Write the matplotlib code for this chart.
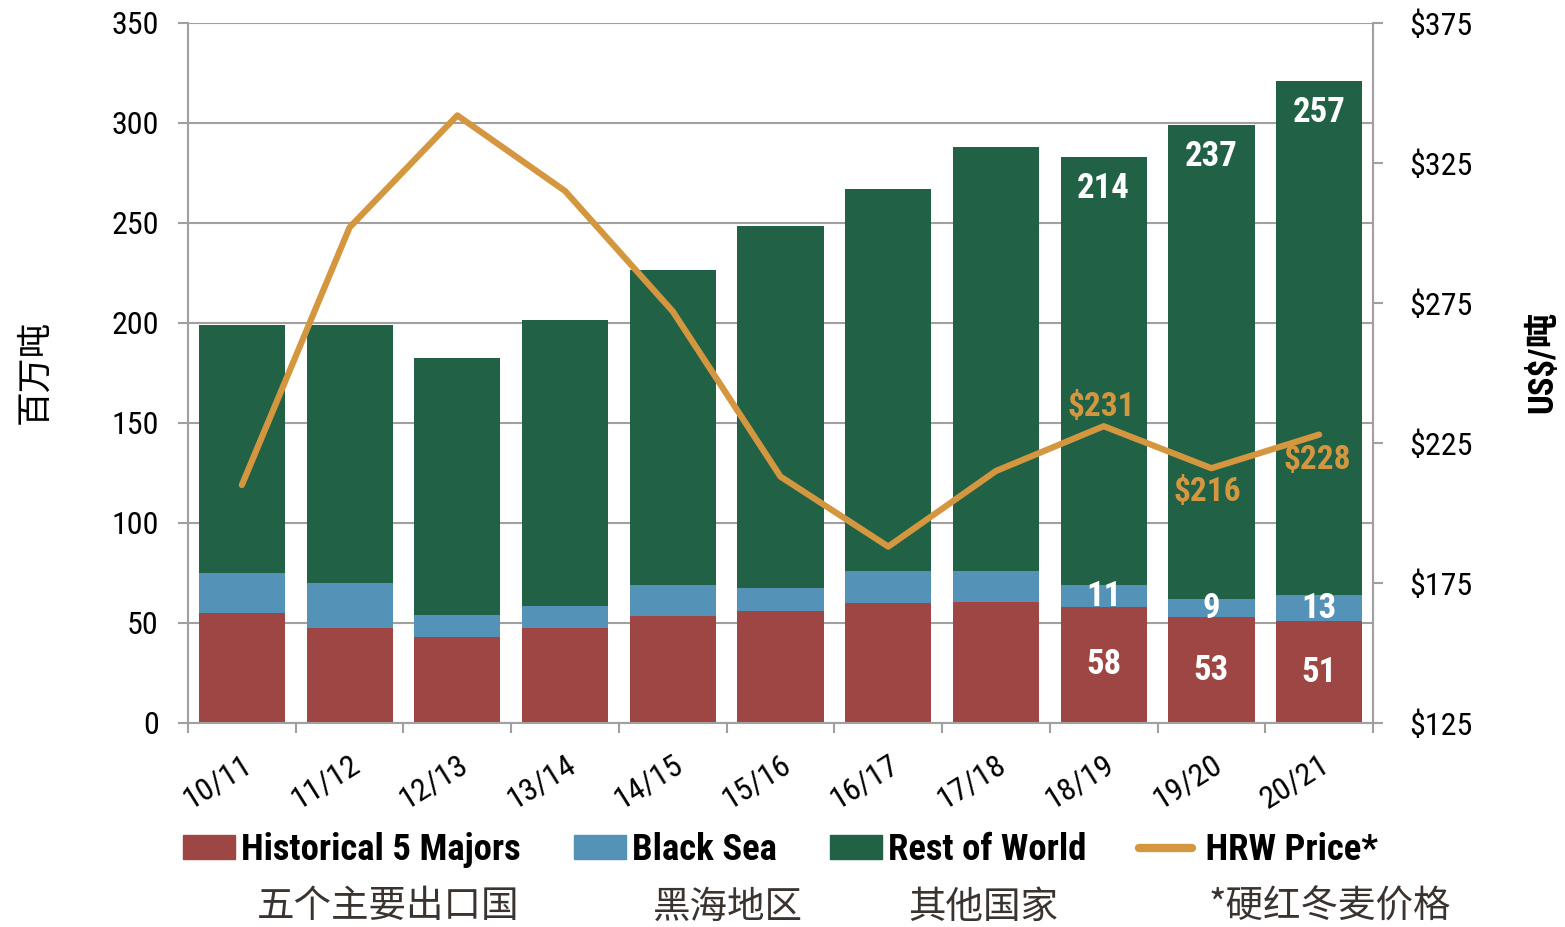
import numpy as np
import matplotlib
matplotlib.use("Agg")
import matplotlib.pyplot as plt
from matplotlib.patches import Patch
from matplotlib.lines import Line2D

## data ##
seasons = ["10/11", "11/12", "12/13", "13/14", "14/15", "15/16",
           "16/17", "17/18", "18/19", "19/20", "20/21"]
majors = [55, 47.5, 43, 47.5, 53.5, 56, 60, 60.5, 58, 53, 51]
black_sea = [20, 22.5, 11, 11, 15.5, 11.5, 16, 15.5, 11, 9, 13]
rest_world = [124, 129, 128.5, 143, 157.5, 181, 191, 212, 214, 237, 257]
hrw_price = [210, 302, 342, 315, 272, 213, 188, 215, 231, 216, 228]
left_ticks = [0, 50, 100, 150, 200, 250, 300, 350]
right_ticks = [125, 175, 225, 275, 325, 375]

## style ##
latin = ["Roboto Condensed", "Liberation Sans Narrow", "Roboto", "DejaVu Sans"]
cjk = ["Noto Sans CJK SC", "DejaVu Sans"]
mixed = ["Roboto Condensed", "Liberation Sans Narrow", "Noto Sans CJK SC"]
c_red = "#9E4644"
c_blue = "#5592B8"
c_green = "#216146"
c_orange = "#D4973F"
c_grid = "#A0A0A0"

fig = plt.figure(figsize=(15.65, 9.27), dpi=100)
ax = fig.add_axes([188 / 1565, 1 - 723 / 927, (1373 - 188) / 1565, 700 / 927])
ax2 = ax.twinx()

x = np.arange(len(seasons))
majors = np.array(majors)
black_sea = np.array(black_sea)
rest_world = np.array(rest_world)
w = 0.8
ax.bar(x, majors, w, color=c_red, zorder=2)
ax.bar(x, black_sea, w, bottom=majors, color=c_blue, zorder=2)
ax.bar(x, rest_world, w, bottom=majors + black_sea, color=c_green, zorder=2)

# white value labels on the last three seasons
for i in range(8, 11):
    ax.text(x[i], majors[i] / 2, "%d" % majors[i], color="white", ha="center",
            va="center", fontsize=25, fontweight="bold", family=latin, zorder=3)
    ax.text(x[i], majors[i] + black_sea[i] / 2, "%d" % black_sea[i], color="white",
            ha="center", va="center", fontsize=25, fontweight="bold", family=latin, zorder=3)
    top = majors[i] + black_sea[i] + rest_world[i]
    ax.annotate("%d" % rest_world[i], (x[i], top), xytext=(0, -23),
                textcoords="offset points", color="white", ha="center", va="center",
                fontsize=25, fontweight="bold", family=latin, zorder=3)

ax.set_xlim(-0.5, len(seasons) - 0.5)
ax.set_ylim(0, 350)
ax.set_yticks(left_ticks)
ax.yaxis.grid(True, color=c_grid, lw=1.5)
ax.set_axisbelow(True)
ax.set_xticks(x)
ax.set_xticklabels(seasons, rotation=32, ha="right", rotation_mode="anchor",
                   fontsize=23, family=latin)
ax.set_xticks(np.arange(-0.5, len(seasons)), minor=True)
ax.tick_params(axis="x", which="major", length=0, pad=19)
ax.tick_params(axis="x", which="minor", length=7, width=1.5, color=c_grid)
ax.tick_params(axis="y", length=7, width=1.5, color=c_grid, labelsize=23, pad=14)
for lab in ax.get_yticklabels():
    lab.set_family(latin)
for s in ["top", "right"]:
    ax.spines[s].set_visible(False)
for s in ["left", "bottom"]:
    ax.spines[s].set_color(c_grid)
    ax.spines[s].set_linewidth(1.5)

# price line
ax2.plot(x, hrw_price, color=c_orange, lw=4.5, solid_capstyle="round", zorder=4)
ax2.set_ylim(125, 375)
ax2.set_yticks(right_ticks)
ax2.set_yticklabels(["$%d" % v for v in right_ticks], family=latin)
ax2.tick_params(axis="y", length=7, width=1.5, color=c_grid, labelsize=23, pad=19)
for s in ["top", "left", "bottom"]:
    ax2.spines[s].set_visible(False)
ax2.spines["right"].set_color(c_grid)
ax2.spines["right"].set_linewidth(1.5)

price_offsets = {8: (-2, 14), 9: (-3, -17), 10: (-1, -18)}
for i, (dx, dy) in price_offsets.items():
    ax2.annotate("$%d" % hrw_price[i], (x[i], hrw_price[i]), xytext=(dx, dy),
                 textcoords="offset points", color=c_orange, ha="center", va="center",
                 fontsize=24, fontweight="bold", family=latin)

fig.text(35 / 1565, 1 - 372 / 927, "百万吨", rotation=90, ha="center", va="center",
         fontsize=25, family=cjk)
fig.text(1543 / 1565, 1 - 362 / 927, "US$/吨", rotation=90, ha="center", va="center",
         fontsize=25, fontweight="bold", family=mixed)

## legend ##
handles = [Patch(color=c_red), Patch(color=c_blue), Patch(color=c_green),
           Line2D([], [], color=c_orange, lw=6, solid_capstyle="round")]
names = ["Historical 5 Majors", "Black Sea", "Rest of World", " HRW Price*"]
fig.legend(handles, names, loc="center left", bbox_to_anchor=(183 / 1565, 1 - 850 / 927),
           ncol=4, frameon=False, borderpad=0, borderaxespad=0,
           handlelength=1.42, handleheight=0.6, handletextpad=0.15,
           columnspacing=1.45, prop={"family": latin, "weight": "bold", "size": 26.5})

cn_labels = ["五个主要出口国", "黑海地区", "其他国家", "*硬红冬麦价格"]
cn_x = [388, 728, 983, 1330]
for t, px in zip(cn_labels, cn_x):
    fig.text(px / 1565, 1 - 907 / 927, t, ha="center", va="center", fontsize=27,
             color="#3A3330", family=cjk)

fig.savefig("out.png", dpi=100)
